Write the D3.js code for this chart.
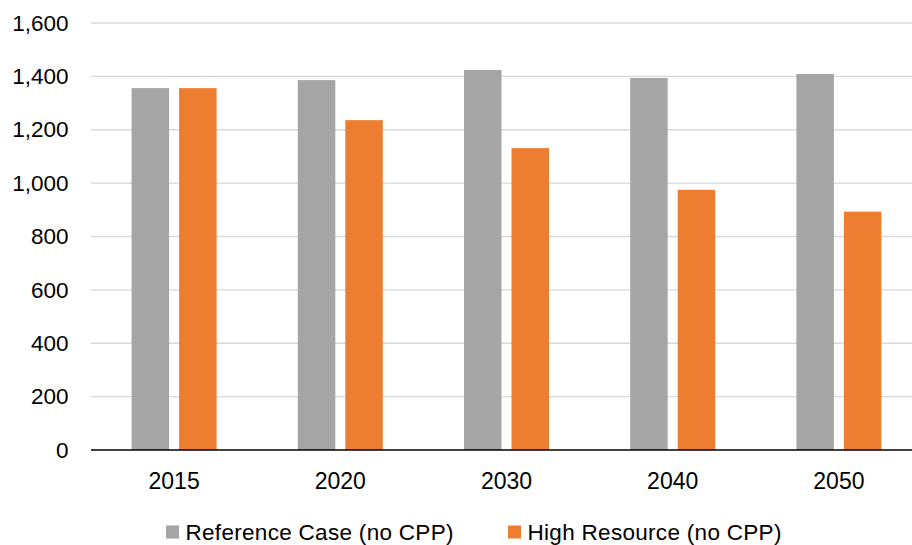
<!DOCTYPE html>
<html><head><meta charset="utf-8">
<script src="https://cdn.jsdelivr.net/npm/d3@7"></script>
<style>body{margin:0;background:#fff}svg{display:block}text{font-family:"Liberation Sans",Arial,sans-serif;fill:#000}</style>
</head><body>
<svg id="c" width="912" height="545"></svg>
<script>
const categories = ["2015","2020","2030","2040","2050"];
const seriesNames = ["Reference Case (no CPP)","High Resource (no CPP)"];
const referenceCase = [1356,1386,1424,1394,1409];
const highResource = [1356,1236,1131,975,893];
const yTicks = [0,200,400,600,800,1000,1200,1400,1600];
const colors = ["#a5a5a5","#ed7d31"];

const svg = d3.select("#c");
const m = {left:91, right:922, top:23, bottom:450};
const x = d3.scaleBand().domain(categories).range([m.left, m.right]).paddingInner(0).paddingOuter(0);
const y = d3.scaleLinear().domain([0,1600]).range([m.bottom, m.top]);
const groupW = 85;
const x1 = d3.scaleBand().domain([0,1]).range([0, groupW]).paddingInner(0.2105);
const groupOffset = (x.bandwidth()-groupW)/2;

// grid
svg.append("g").selectAll("line").data(yTicks.filter(d=>d>0)).join("line")
  .attr("x1",m.left).attr("x2",912).attr("y1",d=>y(d)).attr("y2",d=>y(d))
  .attr("stroke","#d9d9d9").attr("stroke-width",1.3);

// y axis labels
const yAxis = d3.axisLeft(y).tickValues(yTicks).tickSize(0).tickPadding(0).tickFormat(d3.format(","));
const ga = svg.append("g").attr("transform","translate(68.5,0)").call(yAxis);
ga.select(".domain").remove();
ga.attr("font-size",null).attr("font-family",null);
ga.selectAll("text").style("font-size","22.5px").style("font-family","Liberation Sans, Arial, sans-serif").attr("fill","#000");

// bars
const data = categories.map((c,i)=>({c, v:[referenceCase[i], highResource[i]]}));
const g = svg.append("g").selectAll("g").data(data).join("g")
  .attr("transform",d=>`translate(${x(d.c)+groupOffset},0)`);
g.selectAll("rect").data(d=>d.v.map((v,k)=>({v,k}))).join("rect")
  .attr("x",d=>x1(d.k)).attr("width",x1.bandwidth())
  .attr("y",d=>y(d.v)).attr("height",d=>y(0)-y(d.v))
  .attr("fill",d=>colors[d.k]);

// baseline
svg.append("line").attr("x1",m.left).attr("x2",912).attr("y1",y(0)).attr("y2",y(0)).attr("stroke","#000").attr("stroke-width",1.3);

// x axis labels
const xAxis = d3.axisBottom(x).tickSize(0).tickPadding(0);
const gx = svg.append("g").attr("transform",`translate(0,${y(0)})`).call(xAxis);
gx.select(".domain").remove();
gx.attr("font-size",null).attr("font-family",null);
gx.selectAll("text").style("font-size","23px").style("font-family","Liberation Sans, Arial, sans-serif").attr("fill","#000").attr("dy","0.35em").attr("y",31);

// legend
const legX = [166,508];
const lg = svg.append("g").selectAll("g").data(seriesNames).join("g")
  .attr("transform",(d,i)=>`translate(${legX[i]},532)`);
lg.append("rect").attr("x",0).attr("y",-6.5).attr("width",13).attr("height",13).attr("fill",(d,i)=>colors[i]);
lg.append("text").attr("x",19.5).attr("y",0).attr("dy","0.35em").style("font-size","22.5px").style("letter-spacing","0.3px").text(d=>d);
</script>
</body></html>
